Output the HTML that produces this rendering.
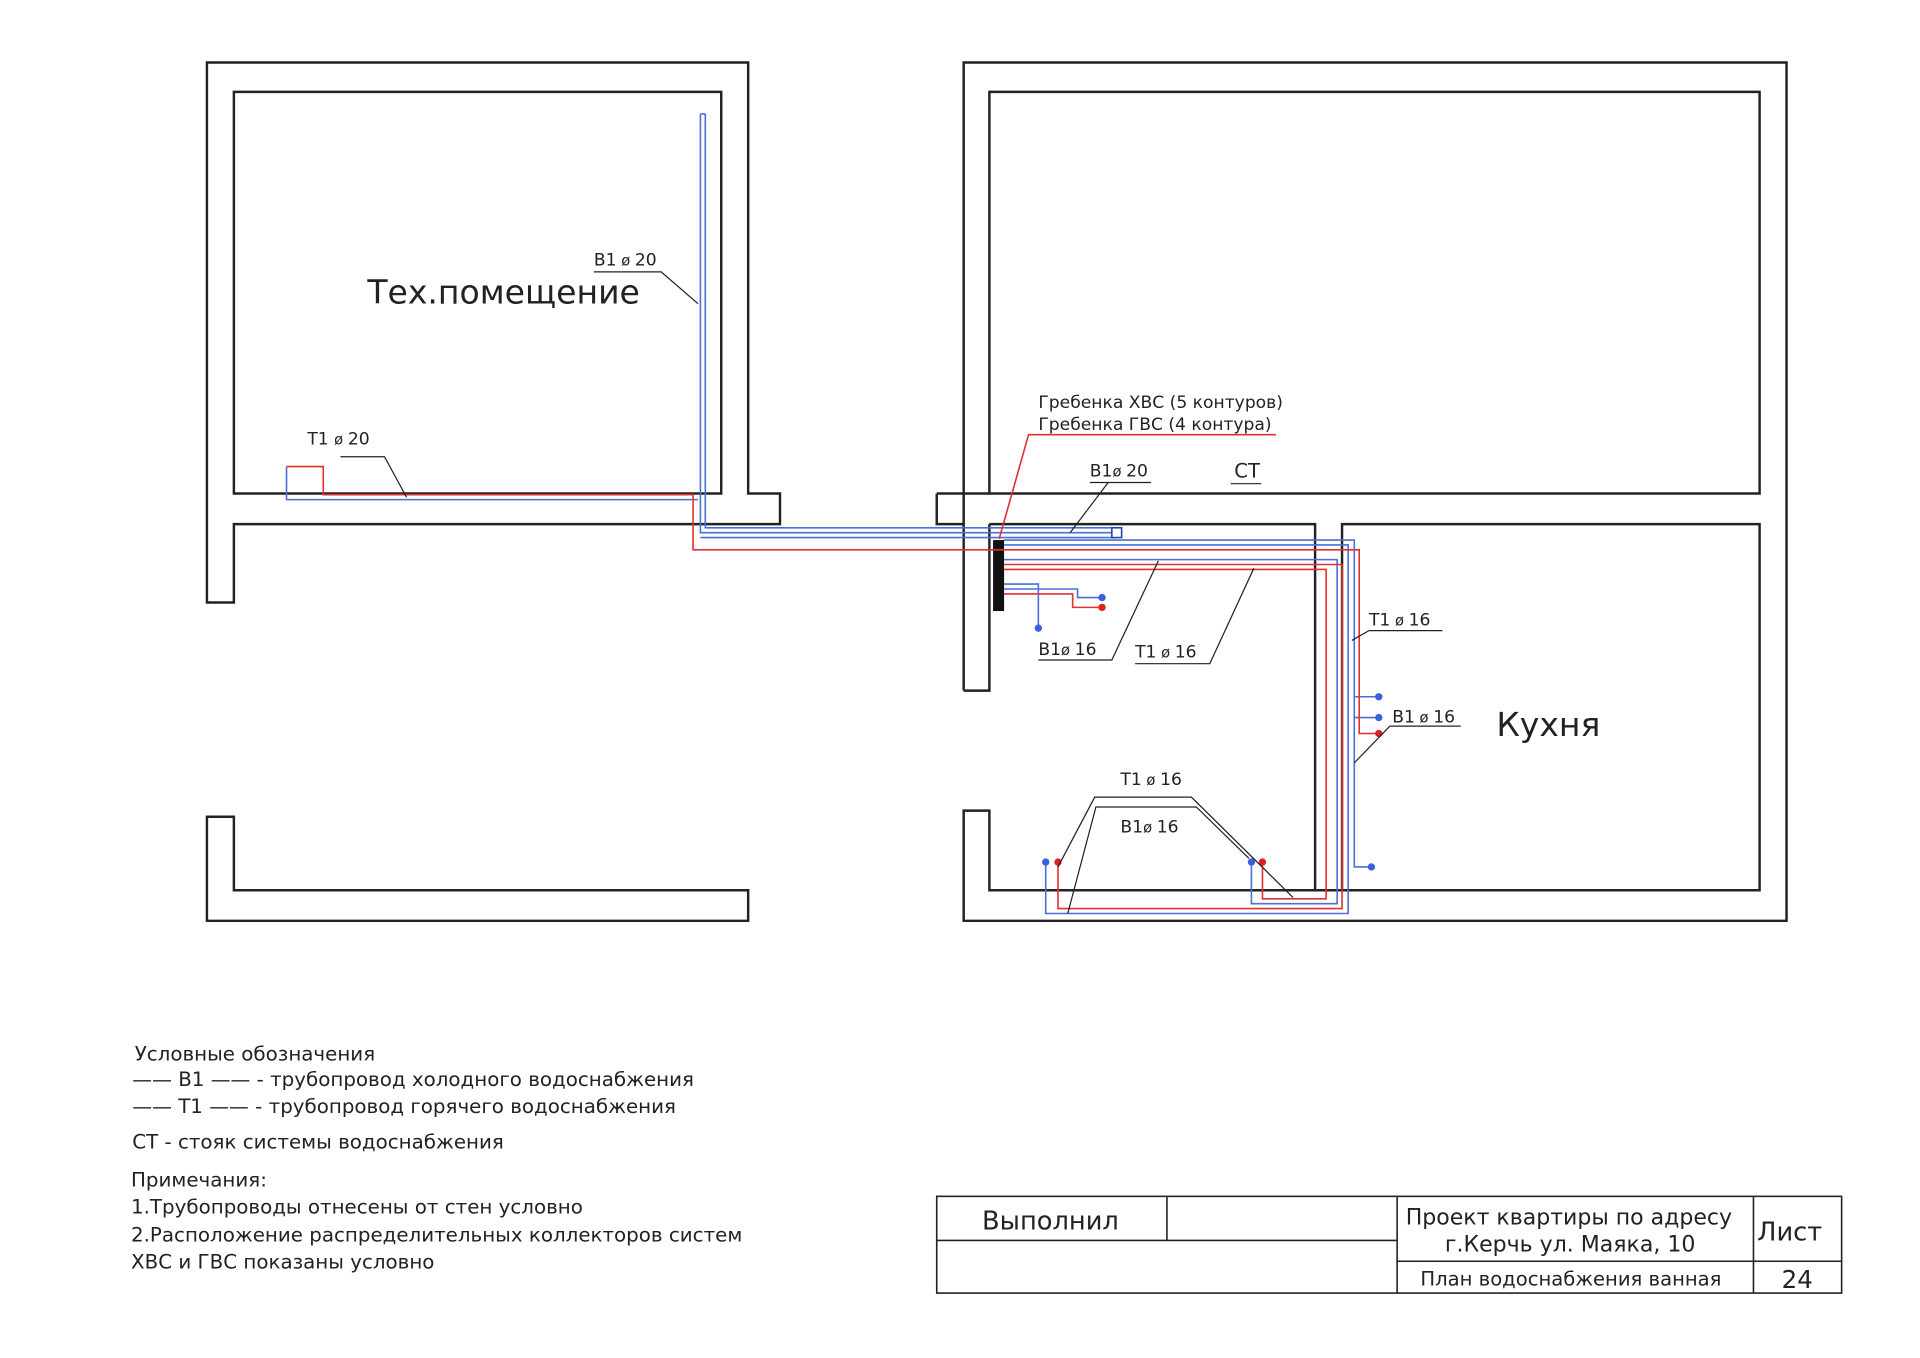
<!DOCTYPE html>
<html><head><meta charset="utf-8"><style>
html,body{margin:0;padding:0;background:#fff}
svg{display:block}
text{font-family:"DejaVu Sans","Liberation Sans",sans-serif;fill:#222}
</style></head><body>
<svg width="1920" height="1358" viewBox="0 0 1568 1109" xmlns="http://www.w3.org/2000/svg">
<g fill="none" stroke="#222" stroke-width="2">
<path d="M169,492 V51 H611 V403 H637 V428 H191 V492 Z"/>
<path d="M191,403 V75 H589 V403 Z"/>
<path d="M169,667 H191 V727 H611 V752 H169 Z"/>
<path d="M787,564 V51 H1459 V752 H787 V662 H808 V727 H1437 V428 H1096 V727"/>
<path d="M808,403 V75 H1437 V403 Z"/>
<path d="M765,403 H808 M765,403 V428 H787"/>
<path d="M808,428 H1074 V727 M808,428 V564 H787"/>
</g>
<rect x="811" y="441" width="9" height="58" fill="#111"/>
<g fill="none" stroke="#4a6fd8" stroke-width="1.3">
<path d="M572,93 V435 H909"/><path d="M576,93 V431 H910 V439 H572"/>
<path d="M572,93 H576"/>
<path d="M234,381 V408 H570"/>
<path d="M820,441 H1106 V708 H1120"/>
<path d="M820,445 H1101 V746 H854 V704"/>
<path d="M820,457 H1092 V738 H1022 V704"/>
<path d="M820,481 H880 V488 H900"/>
<path d="M820,477 H848 V513"/>
<path d="M1106,569 H1126 M1106,586 H1126"/>
</g>
<rect x="908" y="431" width="8" height="8" fill="#fff" stroke="#2244aa" stroke-width="1.3"/>
<g fill="none" stroke="#e03030" stroke-width="1.3">
<path d="M234,381 H264 V404 H566 V449 H820"/>
<path d="M820,449 H1110 V599 H1126"/>
<path d="M820,461 H1096 V742 H864 V704"/>
<path d="M820,465 H1083 V734 H1031 V704"/>
<path d="M820,485 H876 V496 H900"/>
<path d="M816,440 L840,355 H1042"/>
</g>
<g fill="#3a5fe0"><circle cx="900" cy="488" r="3"/><circle cx="848" cy="513" r="3"/><circle cx="1126" cy="569" r="3"/><circle cx="1126" cy="586" r="3"/><circle cx="1120" cy="708" r="3"/><circle cx="854" cy="704" r="3"/><circle cx="1022" cy="704" r="3"/></g>
<g fill="#e02020"><circle cx="900" cy="496" r="3"/><circle cx="1126" cy="599" r="3"/><circle cx="864" cy="704" r="3"/><circle cx="1031" cy="704" r="3"/></g>
<g fill="none" stroke="#222" stroke-width="1">
<path d="M485,222 H540 L570,248"/>
<path d="M278,373 H314 L332,406"/>
<path d="M890,394 H940 M905,394 L874,435"/>
<path d="M1005,395 H1030"/>
<path d="M848,539 H908 L946,458"/>
<path d="M927,542 H988 L1024,464"/>
<path d="M1118,515 H1178 M1118,515 L1104,523"/>
<path d="M1135,593 H1193 M1135,593 L1106,623"/>
<path d="M864,708 L894,651 H973 L1056,733"/>
<path d="M872,746 L895,659 H977 L1020,701"/>
</g>
<text x="300" y="248" font-size="27">Тех.помещение</text>
<text x="1222" y="601" font-size="27">Кухня</text>
<g font-size="14">
<text x="485" y="217">В1<tspan font-size="12"> ø </tspan>20</text>
<text x="251" y="363">Т1 <tspan font-size="12">ø </tspan>20</text>
<text x="848" y="333">Гребенка ХВС (5 контуров)</text>
<text x="848" y="351">Гребенка ГВС (4 контура)</text>
<text x="890" y="389">В1<tspan font-size="12">ø </tspan>20</text>
<text x="1008" y="390" font-size="16">СТ</text>
<text x="848" y="535">В1<tspan font-size="12">ø </tspan>16</text>
<text x="927" y="537">Т1<tspan font-size="12"> ø </tspan>16</text>
<text x="1118" y="511">Т1<tspan font-size="12"> ø </tspan>16</text>
<text x="1137" y="590">В1<tspan font-size="12"> ø </tspan>16</text>
<text x="915" y="641">Т1<tspan font-size="12"> ø </tspan>16</text>
<text x="915" y="680">В1<tspan font-size="12">ø </tspan>16</text>
</g>
<g font-size="16.2">
<text x="110" y="866">Условные обозначения</text>
<text x="108" y="887">—— В1 —— - трубопровод холодного водоснабжения</text>
<text x="108" y="909">—— Т1 —— - трубопровод горячего водоснабжения</text>
<text x="108" y="938">СТ - стояк системы водоснабжения</text>
<text x="107" y="969">Примечания:</text>
<text x="107" y="991">1.Трубопроводы отнесены от стен условно</text>
<text x="107" y="1014">2.Расположение распределительных коллекторов систем</text>
<text x="107" y="1036">ХВС и ГВС показаны условно</text>
</g>
<g fill="none" stroke="#222" stroke-width="1.3">
<rect x="765" y="977" width="739" height="79"/>
<path d="M765,1013 H1141 M953,977 V1013 M1141,977 V1056 M1141,1030 H1504 M1432,977 V1056"/>
</g>
<text x="802" y="1004" font-size="21">Выполнил</text>
<text x="1148" y="1000" font-size="18">Проект квартиры по адресу</text>
<text x="1180" y="1022" font-size="18">г.Керчь ул. Маяка, 10</text>
<text x="1435" y="1013" font-size="21">Лист</text>
<text x="1160" y="1050" font-size="16">План водоснабжения ванная</text>
<text x="1455" y="1052" font-size="20">24</text>
</svg>
</body></html>
